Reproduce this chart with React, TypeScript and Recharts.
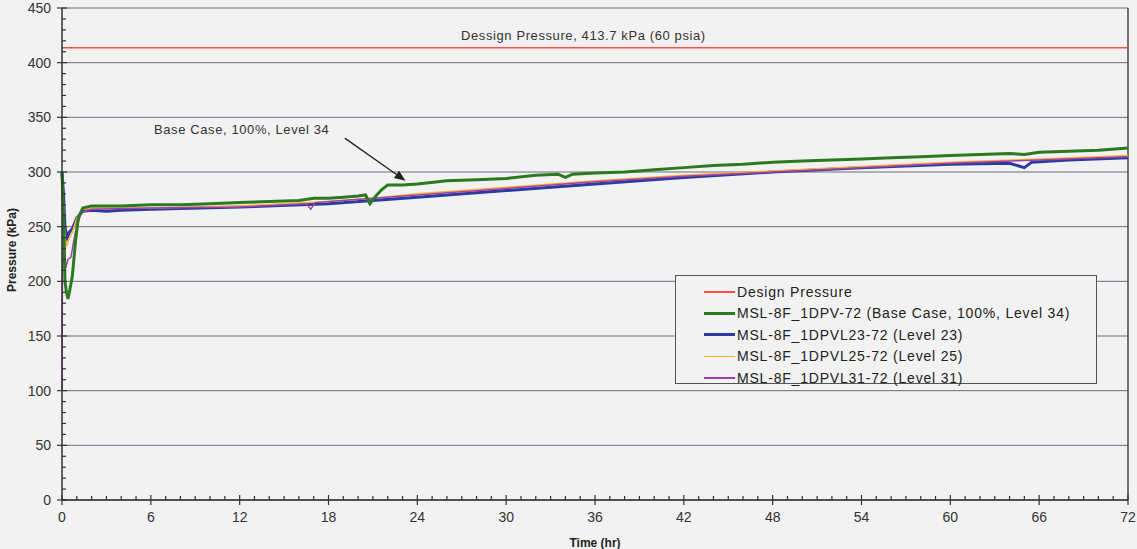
import { LineChart, Line, XAxis, YAxis, ReferenceLine, Label } from "recharts";

const xTicks = [0, 6, 12, 18, 24, 30, 36, 42, 48, 54, 60, 66, 72];
const xMinorTicks = Array.from({ length: 73 }, (_, i) => i);
const yTicks = [0, 50, 100, 150, 200, 250, 300, 350, 400, 450];
const yMinorTicks = Array.from({ length: 46 }, (_, i) => i * 10);

const designTime = [0, 72];
const designValue = [413.7, 413.7];

const baseTime = [0, 0.1, 0.2, 0.3, 0.4, 0.5, 0.7, 0.9, 1.1, 1.4, 2, 3, 4, 6, 8, 10, 12, 14, 16, 17, 18, 19, 20, 20.5, 20.8, 21.2, 21.6, 22, 23, 24, 26, 28, 30, 32, 33.5, 34, 34.5, 36, 38, 40, 42, 44, 46, 48, 50, 52, 54, 56, 58, 60, 62, 64, 65, 66, 68, 70, 72];
const baseValue = [300, 260, 200, 190, 184, 190, 205, 235, 258, 267, 269, 269, 269, 270, 270, 271, 272, 273, 274, 276, 276, 277, 278, 279, 271, 278, 284, 288, 288, 289, 292, 293, 294, 297, 298, 295, 298, 299, 300, 302, 304, 306, 307, 309, 310, 311, 312, 313, 314, 315, 316, 317, 316, 318, 319, 320, 322];

const l23Time = [0, 0.1, 0.2, 0.35, 0.5, 0.7, 1, 1.4, 2, 3, 4, 6, 12, 18, 21, 24, 30, 36, 42, 48, 54, 60, 64, 65, 65.5, 68, 72];
const l23Value = [300, 280, 250, 240, 245, 248, 258, 264, 265, 264, 265, 266, 268, 271, 274, 277, 283, 289, 295, 300, 304, 307, 308, 304, 309, 311, 313];

const l25Time = [0, 0.1, 0.2, 0.3, 0.45, 0.7, 1, 1.4, 2, 6, 12, 18, 21, 24, 30, 36, 42, 48, 54, 60, 66, 72];
const l25Value = [290, 270, 240, 232, 238, 245, 258, 266, 267, 267, 269, 273, 276, 280, 286, 292, 297, 301, 305, 309, 312, 315];

const l31Time = [0, 0.05, 0.15, 0.25, 0.4, 0.6, 0.9, 1.3, 2, 6, 12, 16.5, 16.8, 17.1, 18, 21, 24, 30, 36, 42, 48, 54, 60, 66, 72];
const l31Value = [100, 280, 240, 212, 220, 222, 245, 263, 266, 267, 268, 271, 266, 272, 273, 276, 279, 285, 291, 296, 300, 304, 308, 311, 314];

const toPoints = (t: number[], v: number[]) => t.map((x, i) => ({ t: x, p: v[i] }));

const series = [
  { name: "Design Pressure", color: "#ff4a4a", width: 1.5, data: toPoints(designTime, designValue) },
  { name: "MSL-8F_1DPV-72 (Base Case, 100%, Level 34)", color: "#2b7a1f", width: 3, data: toPoints(baseTime, baseValue) },
  { name: "MSL-8F_1DPVL23-72 (Level 23)", color: "#2a3c9e", width: 3, data: toPoints(l23Time, l23Value) },
  { name: "MSL-8F_1DPVL25-72 (Level 25)", color: "#ffb22e", width: 1.5, data: toPoints(l25Time, l25Value) },
  { name: "MSL-8F_1DPVL31-72 (Level 31)", color: "#a040b0", width: 1.5, data: toPoints(l31Time, l31Value) },
];
const drawOrder = [2, 3, 4, 1, 0];

const font = "'Liberation Sans', Arial, sans-serif";
const axisColor = "#333";

const YTick = (props: any) => {
  const { x, y, payload } = props;
  const major = payload.value % 50 === 0;
  return (
    <g>
      <line x1={major ? x - 5 : x} x2={x + (major ? 5 : 4)} y1={y} y2={y} stroke={axisColor} strokeWidth={1.2} />
      {major && (
        <text x={x - 11} y={y} dy="0.35em" textAnchor="end" fill="#333" fontSize={14} fontFamily={font}>
          {payload.value}
        </text>
      )}
    </g>
  );
};

const XTick = (props: any) => {
  const { x, y, payload } = props;
  const major = payload.value % 6 === 0;
  return (
    <g>
      <line x1={x} x2={x} y1={y - (major ? 5 : 4)} y2={major ? y + 5 : y} stroke={axisColor} strokeWidth={1.2} />
      {major && (
        <text x={x} y={y + 12} dy="0.71em" textAnchor="middle" fill="#333" fontSize={14} fontFamily={font}>
          {payload.value}
        </text>
      )}
    </g>
  );
};

const Arrow = (props: any) => {
  const { x1, y1, x2, y2 } = props;
  const a = Math.atan2(y2 - y1, x2 - x1);
  const L = 11, W = 4.5;
  const bx = x2 - L * Math.cos(a), by = y2 - L * Math.sin(a);
  const pts = `${x2},${y2} ${bx + W * Math.sin(a)},${by - W * Math.cos(a)} ${bx - W * Math.sin(a)},${by + W * Math.cos(a)}`;
  return (
    <g>
      <line x1={x1} y1={y1} x2={bx} y2={by} stroke="#222" strokeWidth={1.3} />
      <polygon points={pts} fill="#222" />
    </g>
  );
};

export default function App() {
  return (
    <div style={{ position: "absolute", left: 0, top: 0, width: 1137, height: 549, background: "#f2f2f2", fontFamily: font }}>
      <LineChart width={1137} height={549} margin={{ top: 8, right: 9, bottom: 0, left: 0 }}>
        {yTicks.map((v) => (
          <ReferenceLine key={v} y={v} stroke="#6c6c7c" strokeWidth={1} />
        ))}
        <ReferenceLine x={72} stroke="#444" strokeWidth={1.5} />
        <XAxis
          dataKey="t"
          type="number"
          domain={[0, 72]}
          ticks={xMinorTicks}
          interval={0}
          allowDuplicatedCategory={false}
          height={49}
          tickSize={0}
          tickMargin={0}
          tickLine={false}
          stroke={axisColor}
          strokeWidth={1.5}
          tick={<XTick />}
        >
          <Label value="Time (hr)" position="insideBottom" offset={2} style={{ fill: "#222", fontSize: 12, fontWeight: "bold", fontFamily: font }} />
        </XAxis>
        <YAxis
          type="number"
          domain={[0, 450]}
          ticks={yMinorTicks}
          interval={0}
          width={62}
          tickSize={0}
          tickMargin={0}
          tickLine={false}
          stroke={axisColor}
          strokeWidth={1.5}
          tick={<YTick />}
        />
        {drawOrder.map((i) => {
          const s = series[i];
          return (
            <Line
              key={s.name}
              data={s.data}
              dataKey="p"
              name={s.name}
              type="linear"
              stroke={s.color}
              strokeWidth={s.width}
              dot={false}
              isAnimationActive={false}
            />
          );
        })}
        <ReferenceLine segment={[{ x: 19.1, y: 331 }, { x: 23.2, y: 292 }]} shape={Arrow} />
      </LineChart>
      <div
        style={{
          position: "absolute",
          left: 12,
          top: 250,
          transform: "translate(-50%, -50%) rotate(-90deg)",
          fontSize: 12,
          fontWeight: "bold",
          color: "#222",
          whiteSpace: "nowrap",
        }}
      >
        Pressure (kPa)
      </div>
      <div style={{ position: "absolute", left: 461, top: 28, fontSize: 13, color: "#333", letterSpacing: 0.6 }}>
        Dessign Pressure, 413.7 kPa (60 psia)
      </div>
      <div style={{ position: "absolute", left: 154, top: 122, fontSize: 13, color: "#333", letterSpacing: 0.6 }}>
        Base Case, 100%, Level 34
      </div>
      <div
        style={{
          position: "absolute",
          left: 675,
          top: 275,
          width: 422,
          height: 109,
          border: "1px solid #555",
          background: "#f2f2f2",
          boxSizing: "border-box",
          paddingTop: 5,
        }}
      >
        {series.map((s) => (
          <div key={s.name} style={{ display: "flex", alignItems: "center", height: 21.5, paddingLeft: 28 }}>
            <div style={{ width: 31, height: s.width > 2 ? 3 : 1.5, background: s.color }} />
            <span style={{ marginLeft: 2, fontSize: 14, color: "#222", letterSpacing: 0.8 }}>{s.name}</span>
          </div>
        ))}
      </div>
    </div>
  );
}
